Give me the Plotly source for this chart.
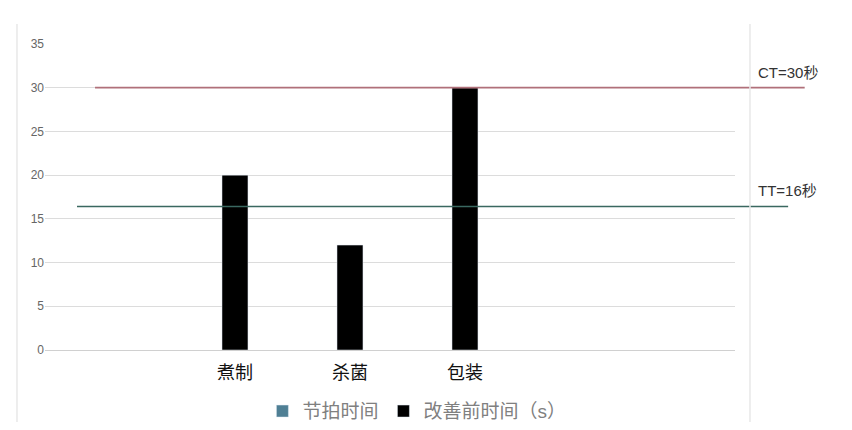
import plotly.graph_objects as go

# data
categories = ["煮制", "杀菌", "包装"]
before_times = [20, 12, 30]     # 改善前时间（s）
takt_times = [None, None, None]  # 节拍时间 (legend only, shown as line)
ct_value = 30
tt_value = 16.4
ct_label = "CT=30秒"
tt_label = "TT=16秒"

cjk = "Liberation Sans, Noto Sans CJK SC, sans-serif"
pos = list(range(1, len(categories) + 1))

fig = go.Figure()
fig.add_trace(go.Bar(x=pos, y=takt_times, name="节拍时间",
                     marker_color="#4f7f94", width=0.226))
fig.add_trace(go.Bar(x=pos, y=before_times, name="改善前时间（s）",
                     marker_color="#000000", width=0.226))

# CT / TT reference lines, they run past the plot area like the original
fig.add_shape(type="line", xref="paper", yref="y", x0=0.0725, x1=1.101,
              y0=ct_value, y1=ct_value, line=dict(color="#b0707a", width=1.8))
fig.add_shape(type="line", xref="paper", yref="y", x0=0.0464, x1=1.077,
              y0=tt_value, y1=tt_value, line=dict(color="#3a6860", width=1.5))
fig.add_annotation(text=ct_label, xref="paper", yref="y", x=1.031, y=ct_value,
                   xanchor="left", yanchor="bottom", yshift=5, showarrow=False,
                   font=dict(size=15, color="#333333", family=cjk))
fig.add_annotation(text=tt_label, xref="paper", yref="y", x=1.031, y=tt_value,
                   xanchor="left", yanchor="bottom", yshift=6, showarrow=False,
                   font=dict(size=15, color="#333333", family=cjk))

# faint frame lines left and right
for xp in (-0.0406, 1.0217):
    fig.add_shape(type="line", xref="paper", yref="paper", x0=xp, x1=xp,
                  y0=-0.235, y1=1.065, line=dict(color="#e8e8e8", width=1.5))

# page body has an 8px margin, so the figure is 8px smaller
fig.update_layout(
    width=844, height=422,
    margin=dict(l=37, r=117, t=36, b=80, autoexpand=False),
    paper_bgcolor="white", plot_bgcolor="white",
    barmode="overlay",
    font=dict(family=cjk),
    legend=dict(orientation="h", x=0.539, xanchor="center", y=-0.2, yanchor="middle",
                font=dict(size=19, color="#808080", family=cjk)),
    xaxis=dict(range=[-0.652, 5.348], tickvals=pos, ticktext=categories,
               showgrid=False, zeroline=False, showline=False,
               ticklabelstandoff=10, tickfont=dict(size=18, color="#111111", family=cjk)),
    yaxis=dict(range=[0, 35], dtick=5, showgrid=True, gridcolor="#dcdcdc", gridwidth=1,
               zeroline=True, zerolinecolor="#d0d0d0", zerolinewidth=1, showline=False,
               tickfont=dict(size=12, color="#666666", family="Liberation Sans")),
)

fig.write_html("out.html")
